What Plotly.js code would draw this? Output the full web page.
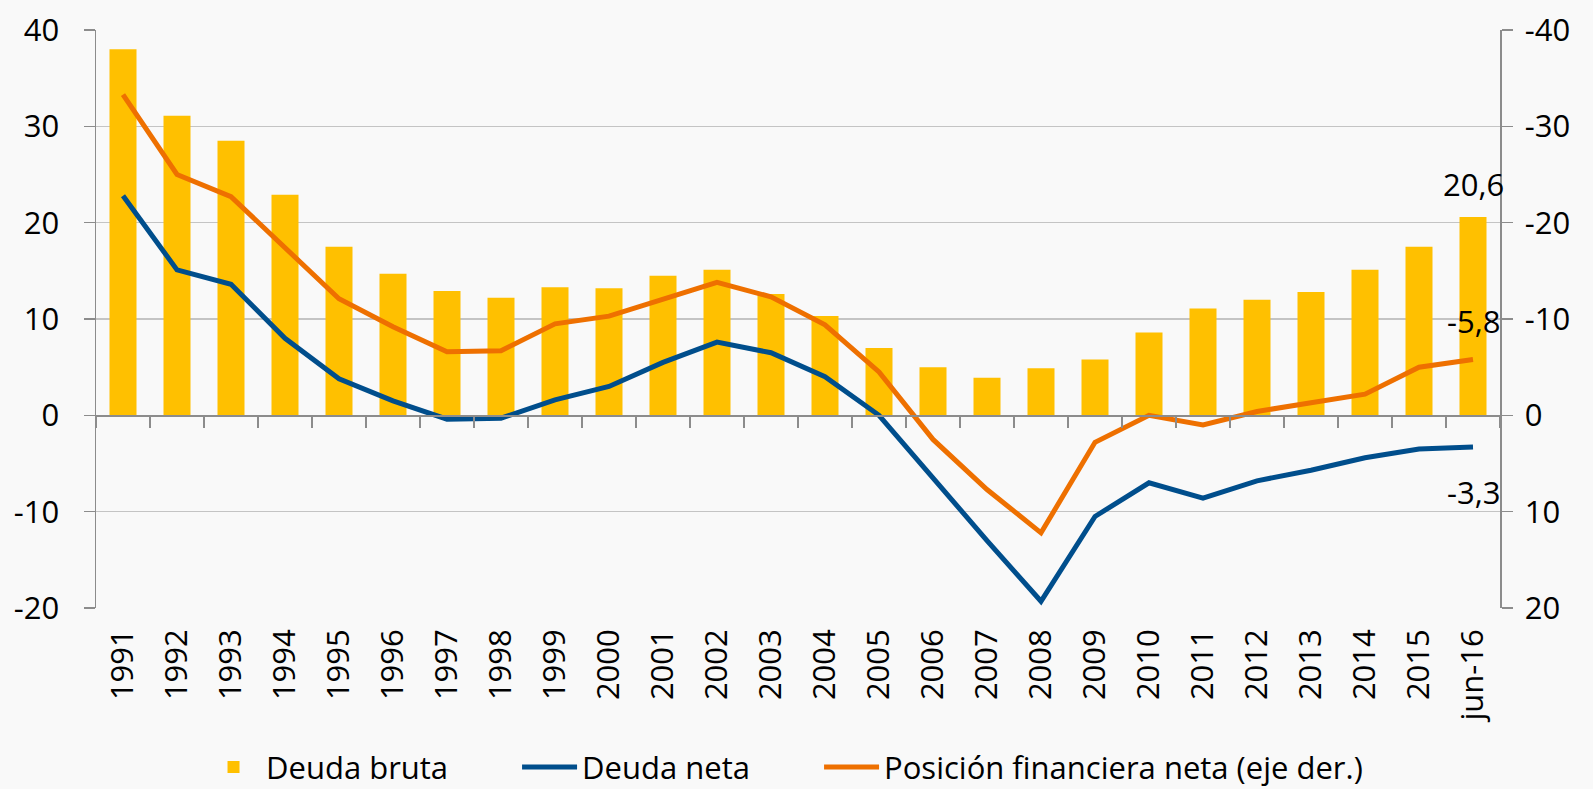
<!DOCTYPE html>
<html>
<head>
<meta charset="utf-8">
<script src="https://cdn.plot.ly/plotly-3.0.1.min.js"></script>
<style>html,body{margin:0;padding:0;background:#f9f9f9;}#chart{width:1593px;height:789px;}</style>
</head>
<body>
<div id="chart"></div>
<script>
const categories = ['1991','1992','1993','1994','1995','1996','1997','1998','1999','2000','2001','2002','2003','2004','2005','2006','2007','2008','2009','2010','2011','2012','2013','2014','2015','jun-16'];
const deudaBruta = [38.0, 31.1, 28.5, 22.9, 17.5, 14.7, 12.9, 12.2, 13.3, 13.2, 14.5, 15.1, 12.6, 10.3, 7.0, 5.0, 3.9, 4.9, 5.8, 8.6, 11.1, 12.0, 12.8, 15.1, 17.5, 20.6];
const deudaNeta = [22.8, 15.1, 13.6, 8.0, 3.8, 1.5, -0.4, -0.3, 1.6, 3.0, 5.5, 7.6, 6.5, 4.0, 0.0, -6.5, -13.0, -19.3, -10.5, -7.0, -8.6, -6.8, -5.7, -4.4, -3.5, -3.3];
const posicionFinanciera = [-33.3, -25.0, -22.7, -17.4, -12.1, -9.2, -6.6, -6.7, -9.5, -10.3, -12.0, -13.8, -12.3, -9.4, -4.5, 2.5, 7.7, 12.2, 2.8, 0.0, 1.0, -0.4, -1.3, -2.2, -5.0, -5.8];
const seriesNames = ['Deuda bruta', 'Deuda neta', 'Posición financiera neta (eje der.)'];
const leftTicks = [-20, -10, 0, 10, 20, 30, 40];
const rightTicks = [-40, -30, -20, -10, 0, 10, 20];

const FONT = 'Open Sans, Noto Sans, sans-serif';
const FS = 31;
const last = categories.length - 1;
const fmt = v => String(v).replace('.', ',');

const traces = [
  {type:'bar', name:seriesNames[0], legend:'legend', x:categories, y:deudaBruta, marker:{color:'#FFC000'}, xaxis:'x', yaxis:'y', hoverinfo:'y'},
  {type:'scatter', mode:'lines', name:seriesNames[1], legend:'legend2', x:categories, y:deudaNeta, line:{color:'#004E8C', width:5}, xaxis:'x', yaxis:'y'},
  {type:'scatter', mode:'lines', name:seriesNames[2], legend:'legend3', x:categories, y:posicionFinanciera, line:{color:'#EE7000', width:5}, xaxis:'x', yaxis:'y2'},
  {type:'scatter', mode:'lines', x:categories, y:categories.map(()=>0), xaxis:'x2', yaxis:'y', showlegend:false, hoverinfo:'skip', opacity:0}
];

const legendBase = {orientation:'h', xanchor:'left', y:-0.229, yanchor:'top', font:{family:FONT, size:FS}, itemwidth:55, bgcolor:'rgba(0,0,0,0)'};

const layout = {
  width:1593, height:789,
  paper_bgcolor:'#f9f9f9', plot_bgcolor:'#f9f9f9',
  margin:{l:96, r:93, t:30, b:181, pad:0, autoexpand:false},
  font:{family:FONT, size:FS, color:'#000'},
  bargap:0.5,
  showlegend:true,
  legend:Object.assign({}, legendBase, {x:0.0748}),
  legend2:Object.assign({}, legendBase, {x:0.2999}),
  legend3:Object.assign({}, legendBase, {x:0.515}),
  xaxis:{type:'category', categoryorder:'array', categoryarray:categories, range:[-0.5, last+0.5], showline:false, ticks:'', showgrid:false, zeroline:false, tickangle:-90, tickfont:{family:FONT, size:FS}, ticklabelstandoff:14, anchor:'y'},
  xaxis2:{type:'category', categoryorder:'array', categoryarray:categories, range:[-0.5, last+0.5], overlaying:'x', anchor:'free', position:1/3, side:'bottom', tickson:'boundaries', ticks:'outside', ticklen:11, tickwidth:1.5, tickcolor:'#8c8c8c', showline:true, linecolor:'#8c8c8c', linewidth:1.5, showticklabels:false, showgrid:false, zeroline:false},
  yaxis:{range:[-20, 40], tickvals:leftTicks, ticktext:leftTicks.map(String), showline:true, linecolor:'#8c8c8c', linewidth:1.5, ticks:'outside', ticklen:11, tickwidth:1.5, tickcolor:'#8c8c8c', showgrid:true, gridcolor:'#c4c4c4', gridwidth:1.5, zeroline:false, tickfont:{family:FONT, size:FS}, ticklabelstandoff:18},
  yaxis2:{range:[20, -40], overlaying:'y', side:'right', tickvals:rightTicks, ticktext:rightTicks.map(String), showline:true, linecolor:'#8c8c8c', linewidth:1.5, ticks:'outside', ticklen:11, tickwidth:1.5, tickcolor:'#8c8c8c', showgrid:false, zeroline:false, tickfont:{family:FONT, size:FS}, ticklabelstandoff:6},
  annotations:[
    {x:categories[last], y:deudaBruta[last], xref:'x', yref:'y', text:fmt(deudaBruta[last]), showarrow:false, yanchor:'bottom', yshift:10, font:{family:FONT, size:FS, color:'#000'}},
    {x:categories[last], y:posicionFinanciera[last], xref:'x', yref:'y2', text:fmt(posicionFinanciera[last]), showarrow:false, yanchor:'middle', yshift:38, font:{family:FONT, size:FS, color:'#000'}},
    {x:categories[last], y:deudaNeta[last], xref:'x', yref:'y', text:fmt(deudaNeta[last]), showarrow:false, yanchor:'middle', yshift:-45, font:{family:FONT, size:FS, color:'#000'}}
  ]
};

Plotly.newPlot('chart', traces, layout, {displayModeBar:false, staticPlot:true});
</script>
</body>
</html>
